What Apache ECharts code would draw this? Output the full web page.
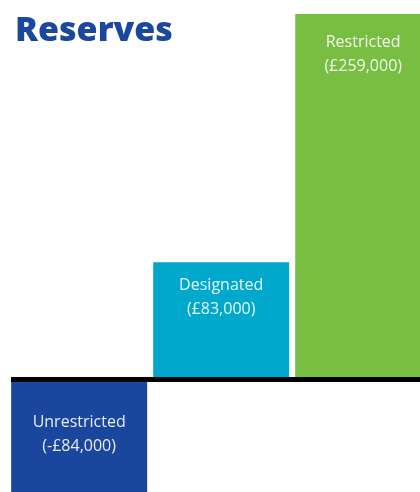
<!DOCTYPE html>
<html><head><meta charset="utf-8">
<script src="https://cdn.jsdelivr.net/npm/echarts@6/dist/echarts.min.js"></script>
<style>html,body{margin:0;padding:0;background:#fff}#c{width:420px;height:492px}</style>
</head><body><div id="c"></div>
<script>
const categories = ['Unrestricted', 'Designated', 'Restricted'];
const values = [-84000, 83000, 259000];
const colors = ['#1a469e', '#00a9cc', '#77be43'];
const labelDistances = [31, 11, 16];

function fmt(v) {
  const a = Math.abs(v).toString().replace(/\B(?=(\d{3})+(?!\d))/g, ',');
  return (v < 0 ? '-' : '') + '£' + a;
}

const chart = echarts.init(document.getElementById('c'));
chart.setOption({
  animation: false,
  title: {
    text: 'Reserves', left: 10, top: 9,
    textStyle: { fontFamily: 'Open Sans', fontWeight: 800, fontSize: 34, color: '#1b479d' }
  },
  grid: { left: 11, right: 0, top: 14, bottom: 0 },
  xAxis: {
    type: 'value', min: -0.48, max: 2.4, z: 10,
    axisLine: { show: true, onZero: true, lineStyle: { color: '#000', width: 5, cap: 'butt' } },
    axisTick: { show: false }, axisLabel: { show: false }, splitLine: { show: false }
  },
  yAxis: { type: 'value', min: -80000, max: 259000, show: false, splitLine: { show: false } },
  series: [{
    type: 'bar', barWidth: 136,
    data: values.map((v, i) => ({
      value: [i, v],
      name: categories[i],
      itemStyle: { color: colors[i] },
      label: { distance: labelDistances[i] }
    })),
    label: {
      show: true, position: 'insideTop',
      formatter: p => categories[p.dataIndex] + '\n(' + fmt(p.value[1]) + ')',
      fontFamily: 'Open Sans', fontSize: 16, lineHeight: 24, color: 'rgba(255,255,255,0.9)'
    }
  }]
});
</script></body></html>
